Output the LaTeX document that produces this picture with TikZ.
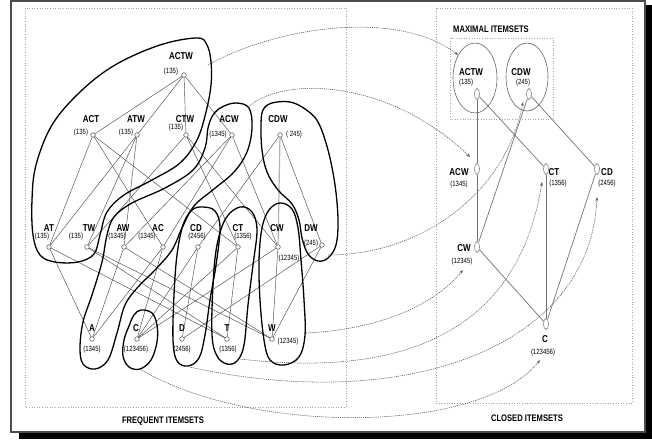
\documentclass[tikz,border=0pt]{standalone}
\usepackage{fontspec}
\setmainfont{Liberation Sans}
\newfontfamily\narrowsans[FakeStretch=0.8]{Liberation Sans}
\usetikzlibrary{arrows.meta,shapes.geometric}
\newcommand\lblfont{\narrowsans\bfseries\fontsize{10}{12}\selectfont}
\newcommand\supfont{\narrowsans\fontsize{7.5}{9}\selectfont}
\newcommand\ttlfont{\narrowsans\bfseries\fontsize{9.5}{11}\selectfont}
\pgfdeclarelayer{bg}
\pgfdeclarelayer{paper}
\pgfsetlayers{paper,bg,main}
\begin{document}
\begin{tikzpicture}[x=1pt,y=-1pt,
  fnode/.style={circle,draw=black!70,fill=white,line width=0.5pt,minimum size=4.6pt,inner sep=0pt},
  cnode/.style={ellipse,draw=black!60,fill=white,line width=0.5pt,minimum width=5pt,minimum height=11pt,inner sep=0pt},
  lab/.style={font=\lblfont,inner sep=0pt},
  sup/.style={font=\supfont,inner sep=0pt},
  ttl/.style={font=\ttlfont,inner sep=0pt},
  edge/.style={draw=black!70,line width=0.45pt},
  cedge/.style={draw=black!55,line width=0.7pt},
  blob/.style={draw=black,line width=1.3pt},
  frame/.style={draw=black!35,dotted,line width=0.6pt},
  link/.style={draw=black!65,line width=0.55pt,dash pattern=on 1.2pt off 0.9pt,-{Stealth[length=4pt,width=2.8pt]}},
]
\useasboundingbox (0,0) rectangle (652,439);
\begin{pgfonlayer}{paper}
\fill[white] (0,0) rectangle (652,439);
\fill[black] (19,432) rectangle (652,439);
\fill[black] (645,5) rectangle (652,439);
\draw[black!70,line width=1.5pt] (11,1) rectangle (645,432);
\end{pgfonlayer}

% frames
\draw[frame] (25,8) rectangle (346,407);
\draw[frame] (436,8) rectangle (632,403);
\draw[frame] (450,38) rectangle (553,119);
\node[ttl] (tfreq) at (163,421) {FREQUENT ITEMSETS};
\node[ttl] (tclosed) at (527,418) {CLOSED ITEMSETS};
\node[ttl] (tmax) at (491,29) {MAXIMAL ITEMSETS};

% ---------- frequent itemsets ----------
\node[fnode] (ACTW) at (184,75) {};
\node[fnode] (ACT) at (93,135) {};
\node[fnode] (ATW) at (137,135) {};
\node[fnode] (CTW) at (186,135) {};
\node[fnode] (ACW) at (232,135) {};
\node[fnode] (CDW) at (280,135) {};
\node[fnode] (AT) at (49,247) {};
\node[fnode] (TW) at (87,247) {};
\node[fnode] (AW) at (124,247) {};
\node[fnode] (AC) at (163,247) {};
\node[fnode] (CD) at (198,247) {};
\node[fnode] (CT) at (238,247) {};
\node[fnode] (CW) at (278,247) {};
\node[fnode] (DW) at (322,245) {};
\node[fnode] (A) at (92,339) {};
\node[fnode] (C) at (137,339) {};
\node[fnode] (D) at (182,339) {};
\node[fnode] (T) at (227,339) {};
\node[fnode] (W) at (272,339) {};

\node[lab] (lACTW) at (181,56) {ACTW};  \node[sup] (sACTW) at (171,72) {(135)};
\node[lab] (lACT) at (91,119) {ACT};    \node[sup] (sACT) at (81,133) {(135)};
\node[lab] (lATW) at (136,119) {ATW};   \node[sup] (sATW) at (126,133) {(135)};
\node[lab] (lCTW) at (185,119) {CTW};   \node[sup] (sCTW) at (176,128) {(135)};
\node[lab] (lACW) at (229,119) {ACW};   \node[sup] (sACW) at (218,135) {(1345)};
\node[lab] (lCDW) at (278,119) {CDW};   \node[sup] (sCDW) at (294,135) {( 245)};
\node[lab] (lAT) at (49,228) {AT};      \node[sup] (sAT) at (42,237) {(135)};
\node[lab] (lTW) at (89,228) {TW};      \node[sup] (sTW) at (76,237) {(135)};
\node[lab] (lAW) at (123,228) {AW};     \node[sup] (sAW) at (117,237) {(1345)};
\node[lab] (lAC) at (158,228) {AC};     \node[sup] (sAC) at (147,237) {(1345)};
\node[lab] (lCD) at (196,228) {CD};     \node[sup] (sCD) at (197,237) {(2456)};
\node[lab] (lCT) at (238,228) {CT};     \node[sup] (sCT) at (243,237) {(1356)};
\node[lab] (lCW) at (277,228) {CW};     \node[sup] (sCW) at (289,259) {(12345)};
\node[lab] (lDW) at (311,228) {DW};     \node[sup] (sDW) at (311,244) {(245)};
\node[lab] (lA) at (92,328) {A};        \node[sup] (sA) at (92,350) {(1345)};
\node[lab] (lC) at (136,328) {C};       \node[sup] (sC) at (136,350) {(123456)};
\node[lab] (lD) at (182,328) {D};       \node[sup] (sD) at (182,350) {(2456)};
\node[lab] (lT) at (227,328) {T};       \node[sup] (sT) at (228,350) {(1356)};
\node[lab] (lW) at (272,328) {W};       \node[sup] (sW) at (288,342) {(12345)};

\begin{pgfonlayer}{bg}
\foreach \u/\v in {ACTW/ACT,ACTW/ATW,ACTW/CTW,ACTW/ACW,
  ACT/AT,ACT/AC,ACT/CT,ATW/AT,ATW/AW,ATW/TW,CTW/CT,CTW/CW,CTW/TW,
  ACW/AC,ACW/AW,ACW/CW,CDW/CD,CDW/DW,
  AT/A,AT/T,TW/T,TW/W,AW/A,AW/W,AC/A,AC/C,CD/C,CD/D,CT/C,CT/T,CW/C,CW/W,DW/D,DW/W}
  \draw[edge] (\u) -- (\v);
\draw[draw=black!30,line width=1.2pt] (CDW) -- (CW);
\end{pgfonlayer}

% blobs (equivalence classes)
\draw[blob] plot[smooth cycle,tension=0.6] coordinates {(197,38) (207,45) (211,62) (211,85) (206,112) (197,140) (180,163) (152,180) (124,195) (107,212) (100,235) (94,254) (78,262) (55,262) (40,255) (33,235) (32,200) (36,165) (52,125) (80,92) (115,65) (160,45)};
\draw[blob] plot[smooth cycle,tension=0.6] coordinates {(222,107) (236,103) (249,108) (252,128) (247,152) (234,172) (214,189) (194,206) (182,228) (172,250) (155,270) (138,287) (125,305) (117,333) (108,360) (95,369) (83,364) (80,348) (83,322) (92,295) (102,262) (107,235) (114,217) (132,203) (165,188) (193,170) (205,148) (208,128) (213,115)};
\draw[blob] plot[smooth cycle,tension=0.6] coordinates {(263,110) (272,103) (290,102) (305,109) (318,122) (328,150) (335,185) (338,220) (336,245) (328,258) (318,261) (308,254) (302,238) (299,220) (292,204) (278,190) (267,172) (262,150) (261,125)};
\draw[blob] plot[smooth cycle,tension=0.6] coordinates {(203,207) (215,211) (220,228) (216,265) (210,300) (205,335) (199,358) (188,366) (177,361) (173,340) (174,295) (177,255) (183,225) (192,210)};
\draw[blob] plot[smooth cycle,tension=0.6] coordinates {(240,207) (252,212) (257,230) (253,265) (248,305) (244,345) (237,361) (227,364) (217,356) (212,335) (213,285) (217,245) (226,218)};
\draw[blob] plot[smooth cycle,tension=0.6] coordinates {(280,203) (292,209) (298,228) (301,260) (304,300) (305,335) (299,357) (284,365) (270,360) (264,340) (260,300) (259,260) (262,228) (269,210)};
\draw[blob] plot[smooth cycle,tension=0.6] coordinates {(141,310) (152,313) (157,325) (157,342) (151,360) (140,369) (129,367) (123,356) (124,340) (129,326) (134,315)};

% ---------- closed itemsets ----------
\draw[draw=black!60,line width=0.6pt] (475,78) ellipse [x radius=22, y radius=35];
\draw[draw=black!60,line width=0.6pt] (527,77) ellipse [x radius=21, y radius=34];
\node[cnode] (kACTW) at (477,94) {};
\node[cnode] (kCDW) at (529,94) {};
\node[cnode] (kACW) at (477,169) {};
\node[cnode] (kCT) at (546,169) {};
\node[cnode] (kCD) at (597,169) {};
\node[cnode] (kCW) at (477,247) {};
\node[cnode] (kC) at (546,324) {};
\node[lab] (mACTW) at (471,72) {ACTW};  \node[sup] (nACTW) at (466,83) {(135)};
\node[lab] (mCDW) at (521,72) {CDW};    \node[sup] (nCDW) at (523,83) {(245)};
\node[lab] (mACW) at (459,172) {ACW};   \node[sup] (nACW) at (459,185) {(1345)};
\node[lab] (mCT) at (554,172) {CT};     \node[sup] (nCT) at (558,184) {(1356)};
\node[lab] (mCD) at (607,172) {CD};     \node[sup] (nCD) at (607,184) {(2456)};
\node[lab] (mCW) at (464,248) {CW};     \node[sup] (nCW) at (462,262) {(12345)};
\node[lab] (mC) at (545,339) {C};       \node[sup] (nC) at (543,353) {(123456)};
\begin{pgfonlayer}{bg}
\foreach \u/\v in {kACTW/kACW,kACW/kCW,kACTW/kCT,kCDW/kCD,kCDW/kCW,kCW/kC,kCT/kC,kCD/kC}
  \draw[cedge] (\u) -- (\v);
\end{pgfonlayer}

% ---------- mapping links ----------
\coordinate (s1) at (208,65);  \coordinate (t1) at (458,55);
\coordinate (s2) at (248,107); \coordinate (t2) at (470,157);
\coordinate (s3) at (328,255); \coordinate (t3) at (523,102);
\coordinate (s4) at (306,333); \coordinate (t4) at (463,270);
\coordinate (s5) at (240,359); \coordinate (t5) at (542,182);
\coordinate (s6) at (185,366); \coordinate (t6) at (597,197);
\coordinate (s7) at (140,369); \coordinate (t7) at (540,360);
\draw[link] (s1) .. controls (280,25) and (400,10) .. (t1);
\draw[link] (s2) .. controls (285,75) and (390,80) .. (t2);
\draw[link] (s3) .. controls (420,255) and (505,195) .. (t3);
\draw[link] (s4) .. controls (370,330) and (430,310) .. (t4);
\draw[link] (s5) .. controls (420,380) and (520,320) .. (t5);
\draw[link] (s6) .. controls (400,415) and (590,350) .. (t6);
\draw[link] (s7) .. controls (250,435) and (480,435) .. (t7);
\end{tikzpicture}
\end{document}
